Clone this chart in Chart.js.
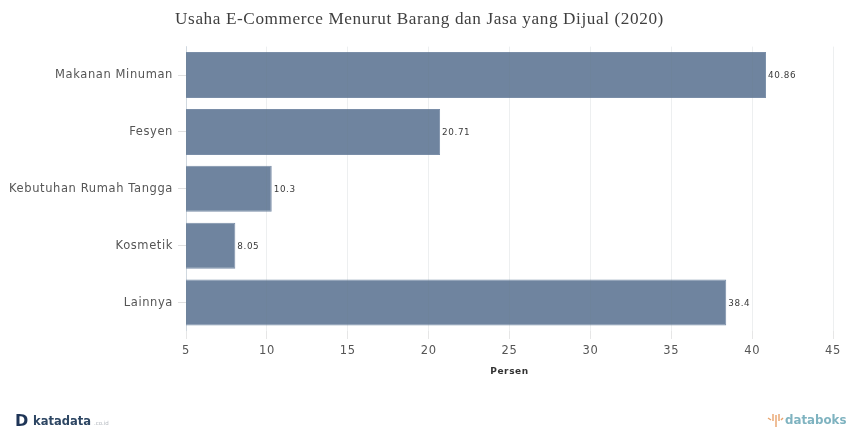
<!DOCTYPE html>
<html>
<head>
<meta charset="utf-8">
<title>Usaha E-Commerce</title>
<script src="https://cdn.jsdelivr.net/npm/chart.js@4"></script>
<style>
  html, body { margin: 0; padding: 0; background: #fff; }
  #wrap { position: relative; width: 847px; height: 427px; }
</style>
</head>
<body>
<div id="wrap"><canvas id="chart" width="847" height="427"></canvas></div>
<script>
const categories = ["Makanan Minuman", "Fesyen", "Kebutuhan Rumah Tangga", "Kosmetik", "Lainnya"];
const values = [40.86, 20.71, 10.3, 8.05, 38.4];
const xTicks = [5, 10, 15, 20, 25, 30, 35, 40, 45];

const labelFont = '"DejaVu Sans", sans-serif';

// all chart text is set a little wide
const textSpacing = {
  id: "textSpacing",
  afterLayout(chart) {
    // nudge the centred title to the right of the plot's centre
    chart.titleBlock.left += 6;
  },
  beforeDraw(chart) {
    chart.ctx.letterSpacing = "0.6px";
  }
};

// value next to the end of each bar
const barValues = {
  id: "barValues",
  afterDatasetsDraw(chart) {
    const ctx = chart.ctx;
    ctx.save();
    ctx.font = "8.8px " + labelFont;
    ctx.fillStyle = "#3a3a3a";
    ctx.textBaseline = "middle";
    chart.getDatasetMeta(0).data.forEach((bar, i) => {
      ctx.fillText(String(values[i]), bar.x + 2, bar.y + 1);
    });
    ctx.restore();
  }
};

// footer logos
const footer = {
  id: "footer",
  afterDraw(chart) {
    const ctx = chart.ctx;
    ctx.save();
    ctx.letterSpacing = "0px";
    ctx.textBaseline = "alphabetic";

    ctx.fillStyle = "#1f3557";
    ctx.font = "bold 16px " + labelFont;
    ctx.fillText("D", 15, 426);
    ctx.font = "bold 11.5px " + labelFont;
    ctx.fillStyle = "#2d4663";
    ctx.fillText("katadata", 33, 425);
    ctx.font = "5.5px " + labelFont;
    ctx.fillStyle = "#b5bac0";
    ctx.fillText(".co.id", 94, 425);

    ctx.font = "bold 11.8px " + labelFont;
    ctx.fillStyle = "#7fb3c0";
    ctx.fillText("databoks", 785, 424);

    // small fan mark in front of the databoks wordmark
    ctx.strokeStyle = "#e8a36c";
    ctx.lineWidth = 1.4;
    [[768, 418, 771, 420], [773, 414, 773, 421], [776, 415, 776, 427], [779, 414, 779, 421], [783, 418, 781, 420]].forEach(s => {
      ctx.beginPath();
      ctx.moveTo(s[0], s[1]);
      ctx.lineTo(s[2], s[3]);
      ctx.stroke();
    });
    ctx.restore();
  }
};

new Chart(document.getElementById("chart"), {
  type: "bar",
  data: {
    labels: categories,
    datasets: [{
      data: values,
      backgroundColor: "#6f849f",
      borderColor: "#7a8ea8",
      borderWidth: 1,
      barPercentage: 0.81,
      categoryPercentage: 1
    }]
  },
  plugins: [textSpacing, barValues, footer],
  options: {
    indexAxis: "y",
    responsive: false,
    animation: false,
    layout: { padding: { left: 0, right: 14, top: 0, bottom: 46 } },
    plugins: {
      legend: { display: false },
      tooltip: { enabled: false },
      title: {
        display: true,
        text: "Usaha E-Commerce Menurut Barang dan Jasa yang Dijual (2020)",
        color: "#3f3f3f",
        font: { family: '"Liberation Serif", serif', size: 17.2, weight: "normal" },
        padding: { top: 9, bottom: 17 }
      }
    },
    scales: {
      x: {
        type: "linear",
        min: 5,
        max: 45,
        afterBuildTicks(axis) {
          axis.ticks = xTicks.map(v => ({ value: v }));
        },
        title: {
          display: true,
          text: "Persen",
          color: "#333",
          font: { family: labelFont, size: 9, weight: "bold" },
          padding: { top: 6, bottom: 4 }
        },
        ticks: { color: "#555", font: { family: labelFont, size: 11.5 }, maxRotation: 0, padding: 5 },
        // drawn over the bars, they show faintly through them
        grid: { color: "rgba(110,120,130,0.12)", lineWidth: 1, tickLength: 8, tickColor: "#e6e6e6", z: 1 },
        border: { display: false },
        afterFit(axis) { axis.height = 50; }
      },
      y: {
        ticks: { color: "#555", font: { family: labelFont, size: 11.5 }, padding: 5, autoSkip: false },
        grid: { offset: false, drawOnChartArea: false, tickLength: 8, tickColor: "#e0e0e0" },
        border: { color: "#dfe5ec" },
        afterFit(axis) { axis.width = 186; }
      }
    }
  }
});
</script>
</body>
</html>
